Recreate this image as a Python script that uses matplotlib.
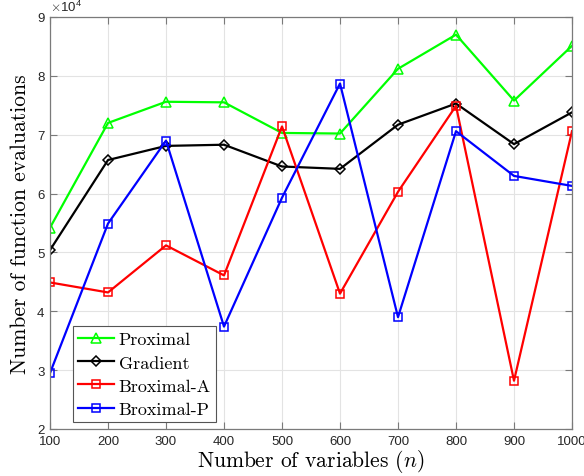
import matplotlib
matplotlib.use("Agg")
import matplotlib.pyplot as plt
from matplotlib.ticker import FuncFormatter, MultipleLocator

plt.rcParams['mathtext.fontset'] = 'cm'

n_vars = [100, 200, 300, 400, 500, 600, 700, 800, 900, 1000]
proximal = [54200, 72000, 75600, 75500, 70300, 70200, 81200, 87000, 75800, 85100]
gradient = [50400, 65700, 68100, 68300, 64600, 64200, 71700, 75300, 68400, 73800]
broximal_a = [44900, 43200, 51200, 46100, 71400, 43000, 60300, 74900, 28200, 70600]
broximal_p = [29500, 54900, 69000, 37400, 59300, 78700, 39000, 70600, 63000, 61300]
labels = ['Proximal', 'Gradient', 'Broximal-A', 'Broximal-P']

fig = plt.figure(figsize=(5.84, 4.77), dpi=100)
ax = fig.add_axes([50/584, 47/477, 522/584, 412/477])

styles = [
    (proximal, '#00ff00', '^', 7),
    (gradient, 'black', 'D', 5),
    (broximal_a, '#ff0000', 's', 5.5),
    (broximal_p, '#0000ff', 's', 5.5),
]
for (vals, col, mk, ms), lab in zip(styles, labels):
    ax.plot(n_vars, vals, color=col, marker=mk, markerfacecolor='none',
            markeredgecolor=col, markersize=ms, markeredgewidth=1.1,
            linewidth=1.6, label=lab)

ax.set_xlim(100, 1000)
ax.set_ylim(20000, 90000)
ax.xaxis.set_major_locator(MultipleLocator(100))
ax.yaxis.set_major_locator(MultipleLocator(10000))
ax.yaxis.set_major_formatter(FuncFormatter(lambda v, p: f"{v/1e4:g}"))

ax.grid(True, color='#e3e3e3', linewidth=0.8)
ax.set_axisbelow(True)
for s in ax.spines.values():
    s.set_color('#7a7a7a')
    s.set_linewidth(0.9)
ax.tick_params(direction='in', top=True, right=True, length=5,
               color='#7a7a7a', labelcolor='#262626', labelsize=9.5, pad=4)
for t in ax.get_xticklabels() + ax.get_yticklabels():
    t.set_family('Liberation Sans')

ax.text(0.0, 1.008, r'$\times\mathregular{10^{4}}$', transform=ax.transAxes,
        ha='left', va='bottom', fontsize=9.5, color='#262626',
        family='Liberation Sans')

ax.set_xlabel(r'Number of variables $(n)$', family='cmr10', fontsize=15.5,
              labelpad=0)
ax.set_ylabel('Number of function evaluations', family='cmr10', fontsize=15.5,
              labelpad=5)

leg = ax.legend(loc='lower left', bbox_to_anchor=(0.0435, 0.016),
                borderaxespad=0, fancybox=False, framealpha=1,
                edgecolor='#555555', prop={'family': 'cmr10', 'size': 13},
                handlelength=2.0, labelspacing=0.42, handletextpad=0.25,
                borderpad=0.3)
leg.get_frame().set_linewidth(0.8)

fig.savefig('out.png', dpi=100)
